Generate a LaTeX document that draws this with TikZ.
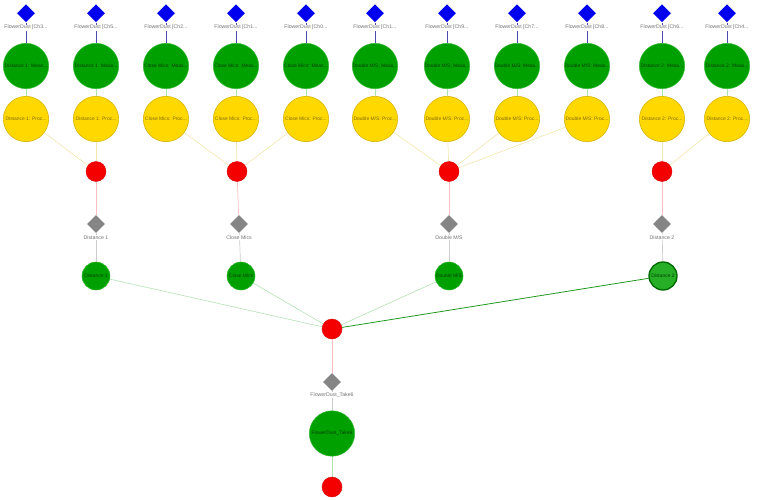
\documentclass[tikz,border=0pt]{standalone}
\usepackage{fontspec}
\setmainfont{Liberation Sans}
\usetikzlibrary{shapes.geometric,backgrounds}
\definecolor{chblue}{HTML}{0000EE}
\definecolor{measgreen}{HTML}{00A000}
\definecolor{measrim}{HTML}{30B830}
\definecolor{procyellow}{HTML}{FFD800}
\definecolor{procrim}{HTML}{D4B000}
\definecolor{mixred}{HTML}{F50000}
\definecolor{takegray}{HTML}{858585}
\tikzset{
  chan/.style={diamond,fill=chblue,inner sep=0pt,minimum size=13.5pt},
  take/.style={diamond,fill=takegray,inner sep=0pt,minimum size=13.5pt},
  meas/.style={circle,fill=measgreen,draw=measrim,line width=0.4pt,inner sep=0pt,
    minimum size=34pt,font=\fontsize{3.7}{4}\selectfont,text=black!60!measgreen},
  proc/.style={circle,fill=procyellow,draw=procrim,line width=0.4pt,inner sep=0pt,
    minimum size=34pt,font=\fontsize{3.7}{4}\selectfont,text=procrim!60!black},
  mix/.style={circle,fill=mixred,draw=red!85!black,line width=0.3pt,inner sep=0pt,minimum size=15pt},
  grp/.style={circle,fill=measgreen,draw=measrim,line width=0.4pt,inner sep=0pt,
    minimum size=21pt,font=\fontsize{3.7}{4}\selectfont,text=black!60!measgreen},
  grpsel/.style={grp,fill=measgreen!85!white,draw=measgreen!65!black,line width=1pt},
  lbl/.style={font=\fontsize{3.9}{4.5}\selectfont,text=black!55,fill=white,inner sep=0.4pt},
  echan/.style={draw=chblue!40!gray,line width=0.5pt},
  emeas/.style={draw=measgreen!32,line width=0.5pt},
  eproc/.style={draw=procrim!30,line width=0.5pt},
  emix/.style={draw=mixred!25,line width=0.5pt},
  etake/.style={draw=black!20,line width=0.5pt},
  egrp/.style={draw=measgreen!28,line width=0.5pt},
  egrpsel/.style={draw=measgreen!75!gray,line width=0.6pt},
}

\begin{document}
\begin{tikzpicture}[x=0.75pt,y=-0.75pt]
  \useasboundingbox (0,0) rectangle (759,499);
  % one column per recorded channel
  \foreach \x/\ch/\grp [count=\i] in {26/3/{Distance 1},96/5/{Distance 1},166/2/{Close Mics},
      236/1/{Close Mics},306/0/{Close Mics},375/1/{Double M/S},447/9/{Double M/S},
      517/7/{Double M/S},587/8/{Double M/S},662/6/{Distance 2},727/4/{Distance 2}}{
    \node[chan] (d\i) at (\x,13.3) {};
    \node[lbl] (dl\i) at (\x,27.6) {FlowerDust [Ch\ch...};
    \node[meas] (m\i) at (\x,66) {\grp: Meas...};
    \node[proc] (p\i) at (\x,119) {\grp: Proc...};
  }
  % microphone groups
  \foreach \xr/\xt/\xg/\name/\sty [count=\j] in {96/96/96/{Distance 1}/grp,
      237/239/241/{Close Mics}/grp,449/449/449/{Double M/S}/grp,
      662/662/663/{Distance 2}/grpsel}{
    \node[mix] (r\j) at (\xr,171.5) {};
    \node[take] (t\j) at (\xt,224) {};
    \node[lbl] (tl\j) at (\xt,237.2) {\name};
    \node[\sty] (g\j) at (\xg,276) {\name};
  }
  \node[mix] (sum) at (332,329) {};
  \node[take] (tk) at (332,382) {};
  \node[lbl] (tkl) at (332,395.2) {FlowerDust\_Take6};
  \node[meas] (take) at (332,433.5) {FlowerDust\_Take6};
  \node[mix] (out) at (332,487) {};
  \begin{scope}[on background layer]
    \foreach \i in {1,...,11}{
      \draw[echan] (d\i) -- (m\i);
      \draw[emeas] (m\i) -- (p\i);
    }
    \foreach \i/\j in {1/1,2/1,3/2,4/2,5/2,6/3,7/3,8/3,9/3,10/4,11/4}
      \draw[eproc] (p\i) -- (r\j);
    \foreach \j in {1,...,4}{
      \draw[emix] (r\j) -- (t\j);
      \draw[etake] (t\j) -- (g\j);
    }
    \foreach \j in {1,2,3}
      \draw[egrp] (g\j) -- (sum);
    \draw[egrpsel] (g4) -- (sum);
    \draw[emix] (sum) -- (tk);
    \draw[etake] (tk) -- (take);
    \draw[emeas] (take) -- (out);
  \end{scope}
\end{tikzpicture}
\end{document}
